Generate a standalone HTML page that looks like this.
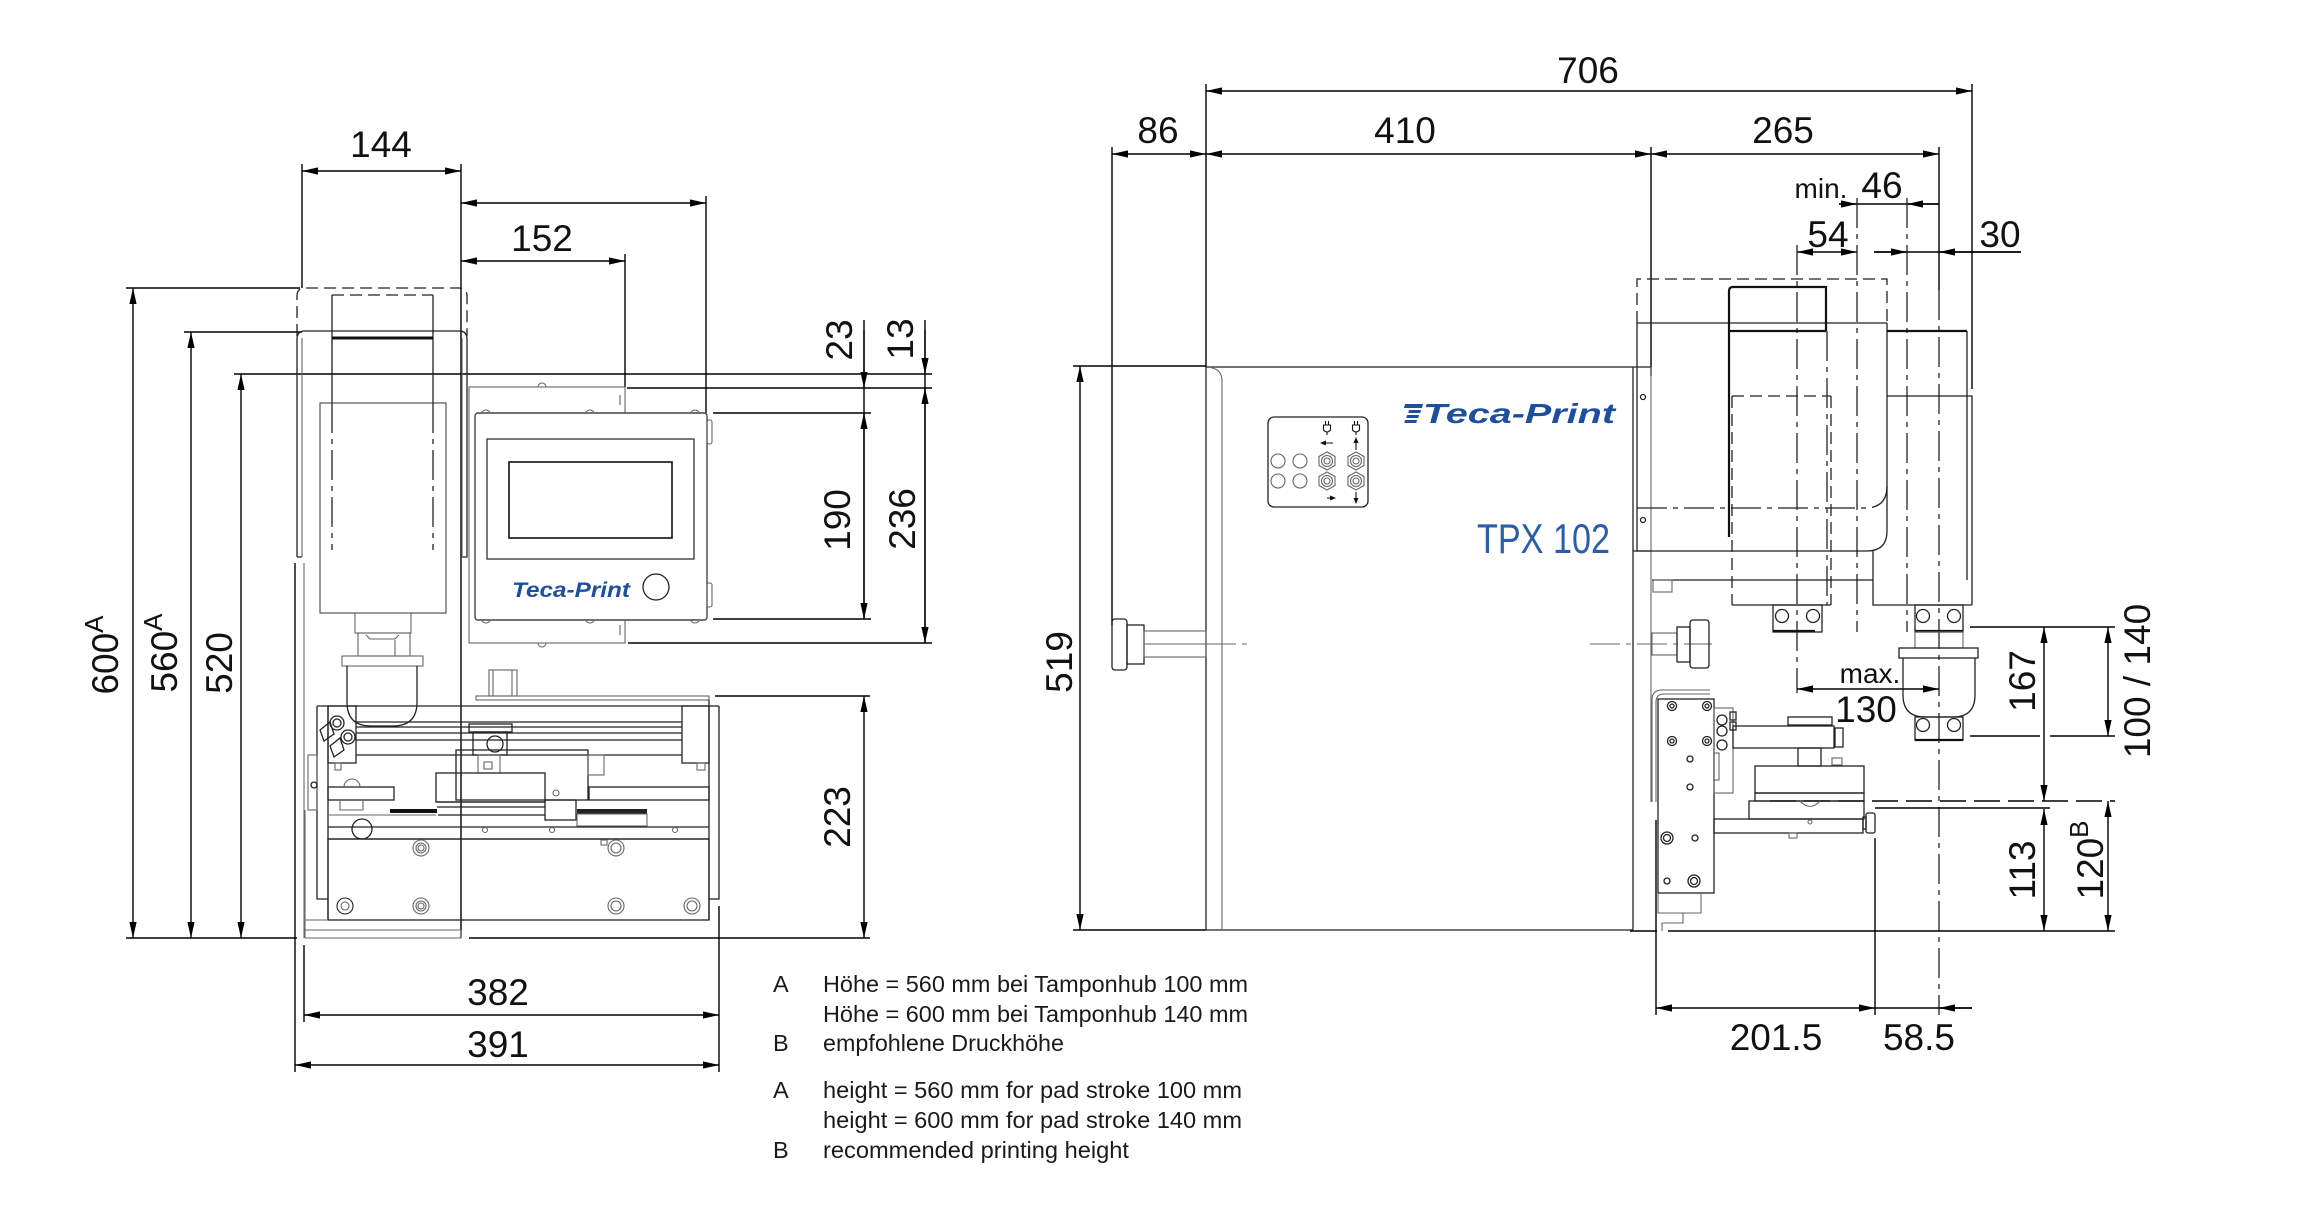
<!DOCTYPE html>
<html><head><meta charset="utf-8"><style>
html,body{margin:0;padding:0;background:#fff;width:2306px;height:1217px;overflow:hidden}
svg{display:block}
.d{stroke:#000;stroke-width:1.4;fill:none}
.da{stroke:#000;stroke-width:1.4;fill:none;marker-start:url(#a);marker-end:url(#a)}
.de{stroke:#000;stroke-width:1.4;fill:none;marker-end:url(#a)}
.m{stroke:#222;stroke-width:1.3;fill:none}
.g{stroke:#666;stroke-width:1.1;fill:none}
.ds{stroke-dasharray:12 6}
.dc{stroke-dasharray:30 6 5 6}
text{font-family:"Liberation Sans",Arial,sans-serif;fill:#111}
.t{font-size:37px}
.l{font-size:23.5px;fill:#1a1a1a}
.b{fill:#1d4f9c}
text.tpx{fill:#2b5da8}
</style></head><body>
<svg xmlns="http://www.w3.org/2000/svg" width="2306" height="1217" viewBox="0 0 2306 1217">
<defs>
<marker id="a" viewBox="0 0 16 8" refX="16" refY="4" markerWidth="16" markerHeight="8" markerUnits="userSpaceOnUse" orient="auto-start-reverse"><path d="M0,0.4L16,4L0,7.6z" fill="#000"/></marker>
</defs>

<!-- ================= LEFT VIEW: DIMENSIONS ================= -->
<line class="da" x1="302" y1="171" x2="461" y2="171"/>
<line class="da" x1="461" y1="203" x2="706" y2="203"/>
<line class="da" x1="461" y1="261" x2="625" y2="261"/>
<path class="d" d="M302,164V288 M461,164V938 M706,196V413 M625,254V387"/>
<text class="t" x="381" y="157" text-anchor="middle">144</text>
<text class="t" x="542" y="251" text-anchor="middle">152</text>

<line class="da" x1="133" y1="288" x2="133" y2="938"/>
<line class="da" x1="191" y1="332" x2="191" y2="938"/>
<line class="da" x1="241" y1="374" x2="241" y2="938"/>
<path class="d" d="M126,288H300 M184,332H302 M234,374H932 M126,938H297 M469,938H870"/>
<text class="t" text-anchor="middle" transform="translate(118,655) rotate(-90)">600<tspan font-size="26" dy="-15">A</tspan></text>
<text class="t" text-anchor="middle" transform="translate(177,653) rotate(-90)">560<tspan font-size="26" dy="-15">A</tspan></text>
<text class="t" text-anchor="middle" transform="translate(232,663) rotate(-90)">520</text>

<path class="d" d="M864,320V619 M925,320V643 M627,388H932 M713,413H871 M713,619H871 M628,643H932"/>
<line class="de" x1="864" y1="330" x2="864" y2="388"/>
<line class="da" x1="864" y1="413" x2="864" y2="619"/>
<line class="de" x1="925" y1="330" x2="925" y2="374"/>
<line class="da" x1="925" y1="388" x2="925" y2="643"/>
<text class="t" text-anchor="middle" transform="translate(852,340) rotate(-90)">23</text>
<text class="t" text-anchor="middle" transform="translate(913,339) rotate(-90)">13</text>
<text class="t" text-anchor="middle" transform="translate(850,520) rotate(-90)">190</text>
<text class="t" text-anchor="middle" transform="translate(915,519) rotate(-90)">236</text>

<line class="da" x1="864" y1="696" x2="864" y2="938"/>
<path class="d" d="M715,696H870"/>
<text class="t" text-anchor="middle" transform="translate(850,817) rotate(-90)">223</text>

<line class="da" x1="304" y1="1015" x2="719" y2="1015"/>
<line class="da" x1="295" y1="1065" x2="719" y2="1065"/>
<path class="d" d="M304,945V1022 M295,563V1072 M719,906V1072"/>
<text class="t" x="498" y="1005" text-anchor="middle">382</text>
<text class="t" x="498" y="1057" text-anchor="middle">391</text>

<!-- ================= LEFT VIEW: MACHINE ================= -->
<path class="m ds" d="M297,336V296Q297,288 305,288H459Q467,288 467,296V336"/>
<path class="m" d="M297,557V339Q297,331 305,331H459Q467,331 467,339V557H462 M297,557H302"/>
<path class="g" d="M302,557V338 M462,557V338 M304,563V938"/>
<path class="m" d="M332,403V295 M433,403V295"/>
<line class="m ds" x1="332" y1="295" x2="433" y2="295"/>
<line x1="332" y1="338" x2="433" y2="338" stroke="#111" stroke-width="3"/>
<rect x="320" y="403" width="126" height="210" fill="none" stroke="#555" stroke-width="1.2"/>
<path class="m dc" d="M332,403V550 M433,403V550"/>
<rect class="g" x="355" y="613" width="56" height="20"/>
<rect class="g" x="358" y="633" width="52" height="23"/>
<path class="g" d="M366,635L370,639H395L399,635 M395,640V656"/>
<rect class="g" x="342" y="656" width="81" height="10" stroke="#333"/>
<path class="m" d="M347,666V702Q347,726 371,726H393Q417,726 417,702V666"/>

<rect class="g" x="469" y="387" width="156" height="256" stroke-width="1.4"/>
<path class="g" d="M538,387A4,4 0 0 1 546,387 M538,643A4,4 0 0 0 546,643 M620,395V405 M620,625V635"/>
<rect x="475" y="413" width="232" height="207" rx="3" fill="#fff" stroke="#444" stroke-width="1.4"/>
<path class="g" d="M482,413A4,3 0 0 1 490,413 M586,413A4,3 0 0 1 594,413 M691,413A4,3 0 0 1 699,413 M482,620A4,3 0 0 0 490,620 M586,620A4,3 0 0 0 594,620 M691,620A4,3 0 0 0 699,620"/>
<rect class="g" x="707" y="420" width="5" height="24" rx="2"/>
<rect class="g" x="707" y="583" width="5" height="24" rx="2"/>
<rect x="487" y="439" width="207" height="120" fill="none" stroke="#333" stroke-width="1.3"/>
<rect x="509" y="462" width="163" height="76" fill="none" stroke="#111" stroke-width="1.6"/>
<text x="512" y="597" font-size="21" font-weight="bold" font-style="italic" class="b" textLength="118" lengthAdjust="spacingAndGlyphs">Teca-Print</text>
<circle class="m" cx="656" cy="587" r="13"/>

<rect class="g" x="476" y="696" width="233" height="4"/>
<rect class="g" x="489" y="670" width="28" height="26"/>
<path class="g" d="M493,670V696 M512,670V696"/>
<path class="m" d="M317,706H719 M317,706V899H328 M328,706V920 M709,700V920 M719,706V899H709"/>
<rect class="m" x="328" y="706" width="28" height="57"/>
<circle class="m" cx="337" cy="723" r="7"/><circle class="m" cx="337" cy="723" r="4"/>
<circle class="m" cx="348" cy="737" r="7"/><circle class="m" cx="348" cy="737" r="4"/>
<path class="m" d="M320,730L330,722L334,734L324,741Z M330,746L340,738L344,750L334,757Z"/>
<path class="m" d="M356,722H682 M356,727H682 M356,733H682 M356,740H682 M356,755H682"/>
<rect class="m" x="682" y="706" width="27" height="57"/>
<rect class="g" x="697" y="763" width="8" height="7"/>
<rect class="g" x="335" y="763" width="6" height="7"/>
<rect class="m" x="456" y="750" width="132" height="50" fill="#fff"/>
<rect class="g" x="588" y="755" width="16" height="20"/>
<rect class="m" x="469" y="724" width="43" height="8"/>
<rect class="m" x="473" y="732" width="34" height="23" fill="#fff"/>
<circle class="m" cx="495" cy="744" r="8"/>
<rect class="g" x="478" y="755" width="22" height="18"/>
<rect class="g" x="484" y="762" width="8" height="7"/>
<rect class="m" x="436" y="773" width="109" height="29" fill="#fff"/>
<path class="m" d="M437,802H545 M437,807H545 M438,815H545"/>
<circle class="g" cx="556" cy="793" r="3"/>
<rect class="m" x="545" y="800" width="31" height="20"/>
<rect class="m" x="328" y="787" width="66" height="13"/>
<path class="g" d="M344,787A8,8 0 0 1 360,787 M340,800V810H363V800"/>
<rect class="m" x="589" y="787" width="120" height="13"/>
<rect x="390" y="809" width="47" height="4" fill="#111"/>
<rect x="577" y="809" width="70" height="5" fill="#222"/>
<rect class="g" x="577" y="814" width="70" height="12"/>
<path class="g" d="M328,815H436"/>
<path class="m" d="M328,827H709 M328,839H709"/>
<circle class="g" cx="485" cy="830" r="2.5"/><circle class="g" cx="552" cy="830" r="2.5"/><circle class="g" cx="675" cy="830" r="2.5"/>
<circle class="m" cx="362" cy="829" r="10" fill="#fff"/>
<rect class="m" x="328" y="839" width="381" height="81"/>
<g class="g">
<circle cx="421" cy="848" r="8"/><circle cx="421" cy="848" r="5"/><circle cx="421" cy="848" r="3"/>
<circle cx="616" cy="848" r="8"/><circle cx="616" cy="848" r="5"/>
<circle cx="345" cy="906" r="8" stroke="#222"/><circle cx="345" cy="906" r="4"/>
<circle cx="421" cy="906" r="8"/><circle cx="421" cy="906" r="5"/><circle cx="421" cy="906" r="3"/>
<circle cx="616" cy="906" r="8"/><circle cx="616" cy="906" r="5"/>
<circle cx="692" cy="906" r="8"/><circle cx="692" cy="906" r="5"/>
</g>
<rect class="g" x="601" y="840" width="6" height="5"/>
<rect class="g" x="308" y="755" width="9" height="55"/>
<circle class="m" cx="314" cy="785" r="3"/>
<path class="g" d="M305,920H328 M305,930H461 M305,938H461 M461,930V938 M305,810V938"/>

<!-- ================= RIGHT VIEW: DIMENSIONS ================= -->
<line class="da" x1="1206" y1="91" x2="1972" y2="91"/>
<line class="da" x1="1112" y1="154" x2="1206" y2="154"/>
<line class="da" x1="1206" y1="154" x2="1651" y2="154"/>
<line class="da" x1="1651" y1="154" x2="1939" y2="154"/>
<path class="d" d="M1206,84V367 M1972,84V389 M1112,147V625 M1651,147V376 M1939,147V290"/>
<text class="t" x="1588" y="83" text-anchor="middle">706</text>
<text class="t" x="1158" y="143" text-anchor="middle">86</text>
<text class="t" x="1405" y="143" text-anchor="middle">410</text>
<text class="t" x="1783" y="143" text-anchor="middle">265</text>

<path class="d" d="M1839,204H1939"/>
<line class="de" x1="1839" y1="204" x2="1857" y2="204"/>
<line class="de" x1="1939" y1="204" x2="1907" y2="204"/>
<text x="1821" y="198" text-anchor="middle" font-size="28">min.</text>
<text class="t" x="1882" y="198" text-anchor="middle">46</text>
<line class="da" x1="1797" y1="252" x2="1857" y2="252"/>
<path class="d" d="M1874,252H2021"/>
<line class="de" x1="1874" y1="252" x2="1907" y2="252"/>
<line class="de" x1="2021" y1="252" x2="1939" y2="252"/>
<text class="t" x="1828" y="247" text-anchor="middle">54</text>
<text class="t" x="2000" y="247" text-anchor="middle">30</text>

<path class="m dc" d="M1797,245V693 M1857,198V632 M1907,198V632 M1939,290V1015"/>

<line class="da" x1="1080" y1="366" x2="1080" y2="930"/>
<path class="d" d="M1073,366H1206 M1073,930H1206"/>
<text class="t" text-anchor="middle" transform="translate(1072,662) rotate(-90)">519</text>

<line class="da" x1="2044" y1="627" x2="2044" y2="801"/>
<line class="da" x1="2108" y1="627" x2="2108" y2="736"/>
<line class="da" x1="2044" y1="809" x2="2044" y2="931"/>
<line class="da" x1="2108" y1="801" x2="2108" y2="931"/>
<path class="d" d="M1970,627H2115 M1970,736H2040 M2050,736H2115 M1875,808H2050 M1668,931H2115 M1630,931H1657"/>
<path class="d" d="M1770,801H2115" stroke-dasharray="26 8"/>
<text class="t" text-anchor="middle" transform="translate(2035,681) rotate(-90)">167</text>
<text class="t" text-anchor="middle" transform="translate(2150,681) rotate(-90)">100 / 140</text>
<text class="t" text-anchor="middle" transform="translate(2035,870) rotate(-90)">113</text>
<text class="t" text-anchor="middle" transform="translate(2103,860) rotate(-90)">120<tspan font-size="26" dy="-15">B</tspan></text>

<line class="da" x1="1797" y1="689" x2="1939" y2="689"/>
<text x="1870" y="683" text-anchor="middle" font-size="28">max.</text>
<text class="t" x="1866" y="722" text-anchor="middle">130</text>

<line class="da" x1="1656" y1="1008" x2="1875" y2="1008"/>
<path class="d" d="M1875,1008H1972 M1656,820V1015 M1875,838V1015"/>
<line class="de" x1="1972" y1="1008" x2="1939" y2="1008"/>
<text class="t" x="1776" y="1050" text-anchor="middle">201.5</text>
<text class="t" x="1919" y="1050" text-anchor="middle">58.5</text>

<!-- ================= RIGHT VIEW: MACHINE ================= -->
<path class="m" d="M1206,930V367H1633V930 M1206,930H1633"/>
<path class="g" d="M1222,930V381Q1222,370 1212,368"/>
<path class="m" d="M1633,367H1651 M1633,551H1651"/>
<path class="g" d="M1651,367V802"/>
<circle class="m" cx="1643" cy="397" r="2.5"/><circle class="m" cx="1643" cy="520" r="2.5"/>

<rect class="m" x="1268" y="417" width="100" height="90" rx="6"/>
<g class="g" stroke="#333">
<circle cx="1278" cy="461" r="7"/><circle cx="1300" cy="461" r="7"/>
<circle cx="1278" cy="481" r="7"/><circle cx="1300" cy="481" r="7"/>
<polygon points="1327,452 1335,456.5 1335,465.5 1327,470 1319,465.5 1319,456.5"/><circle cx="1327" cy="461" r="5.5"/><circle cx="1327" cy="461" r="3"/>
<polygon points="1327,472 1335,476.5 1335,485.5 1327,490 1319,485.5 1319,476.5"/><circle cx="1327" cy="481" r="5.5"/><circle cx="1327" cy="481" r="3"/>
<polygon points="1356,452 1364,456.5 1364,465.5 1356,470 1348,465.5 1348,456.5"/><circle cx="1356" cy="461" r="5.5"/><circle cx="1356" cy="461" r="3"/>
<polygon points="1356,472 1364,476.5 1364,485.5 1356,490 1348,485.5 1348,476.5"/><circle cx="1356" cy="481" r="5.5"/><circle cx="1356" cy="481" r="3"/>
</g>
<g stroke="#111" stroke-width="1.1" fill="none">
<path d="M1325.5,421V425 M1328.5,421V425 M1323.5,425H1330.5V430Q1327,434 1323.5,430Z M1327,432V435"/>
<path d="M1354.5,421V425 M1357.5,421V425 M1352.5,425H1359.5V430Q1356,434 1352.5,430Z M1356,432V435"/>
<path d="M1324,443H1333 M1327,498H1333 M1356,441V450 M1356,492V501"/>
</g>
<g fill="#111">
<polygon points="1320,443 1326,440.5 1326,445.5"/>
<polygon points="1336,498 1330,495.5 1330,500.5"/>
<polygon points="1356,437 1353.5,443 1358.5,443"/>
<polygon points="1356,504 1353.5,498 1358.5,498"/>
</g>
<g class="b">
<path d="M1405,404H1423L1422,408H1404Z M1409,410H1421L1420.3,413H1408.3Z M1407,415H1419L1418.3,418H1406.3Z M1405,420H1417L1416.3,423H1404.3Z"/>
</g>
<text x="1423" y="423" font-size="28" font-weight="bold" font-style="italic" class="b" textLength="192" lengthAdjust="spacingAndGlyphs">Teca-Print</text>
<text x="1477" y="553" font-size="42" class="tpx" textLength="133" lengthAdjust="spacingAndGlyphs">TPX 102</text>

<rect class="m" x="1112" y="619" width="15" height="51" rx="3"/>
<rect class="m" x="1127" y="625" width="17" height="39"/>
<rect class="g" x="1144" y="631" width="62" height="26"/>
<path class="g" d="M1144,644H1206"/>
<path class="g dc" d="M1206,644H1250 M1590,644H1712"/>
<rect class="g" x="1652" y="633" width="25" height="22"/>
<rect class="m" x="1677" y="627" width="13" height="35"/>
<rect class="m" x="1690" y="620" width="19" height="48" rx="3"/>

<path class="m ds" d="M1637,323V279H1887V323"/>
<path class="m" d="M1637,323H1887 M1637,323V551H1867Q1887,551 1887,531V323"/>
<path class="m dc" d="M1637,508H1865Q1887,508 1887,486"/>
<path d="M1729,537V291Q1729,287 1733,287H1826V331 M1729,331H1826" fill="none" stroke="#111" stroke-width="2.2"/>
<path class="m ds" d="M1732,396H1831 M1732,396V605 M1831,396V605"/>
<path class="m dc" d="M1827,331V605"/>
<path class="m" d="M1732,605H1831"/>
<path d="M1887,331H1967" stroke="#111" stroke-width="2.2" fill="none"/>
<path class="m" d="M1967,331V580 M1887,396H1972V605 M1873,551V605H1972 M1652,580H1873"/>
<rect class="g" x="1653" y="580" width="19" height="12"/>
<rect class="m" x="1773" y="605" width="49" height="27"/>
<circle class="m" cx="1782" cy="616" r="6.5"/><circle class="m" cx="1813" cy="616" r="6.5"/>
<path d="M1773,631H1815" stroke="#111" stroke-width="2.2"/>
<rect class="m" x="1915" y="605" width="48" height="27"/>
<circle class="m" cx="1923" cy="616" r="6.5"/><circle class="m" cx="1954" cy="616" r="6.5"/>
<path d="M1915,631H1963" stroke="#111" stroke-width="2.2"/>
<rect class="g" x="1915" y="632" width="48" height="16"/>
<rect class="m" x="1899" y="648" width="79" height="10"/>
<path class="m" d="M1903,658V695Q1903,717 1925,717H1953Q1975,717 1975,695V658"/>
<rect class="m" x="1915" y="717" width="48" height="23" fill="#fff"/>
<circle class="m" cx="1923" cy="725" r="6.5"/><circle class="m" cx="1954" cy="725" r="6.5"/>
<path d="M1915,740H1963" stroke="#111" stroke-width="2.2"/>

<path class="g" d="M1652,802V700Q1652,690 1662,690H1710 M1656,802V702Q1656,694 1664,694H1710"/>
<rect class="m" x="1658" y="699" width="56" height="194" fill="#fff"/>
<g class="m">
<circle cx="1672" cy="706" r="4.5"/><circle cx="1672" cy="706" r="2"/>
<circle cx="1707" cy="706" r="4.5"/><circle cx="1707" cy="706" r="2"/>
<circle cx="1672" cy="741" r="4.5"/><circle cx="1672" cy="741" r="2"/>
<circle cx="1707" cy="741" r="4.5"/><circle cx="1707" cy="741" r="2"/>
<circle cx="1690" cy="759" r="3"/><circle cx="1690" cy="787" r="3"/>
<circle cx="1667" cy="838" r="6"/><circle cx="1667" cy="838" r="3.5"/>
<circle cx="1695" cy="838" r="3"/>
<circle cx="1667" cy="881" r="3"/>
<circle cx="1694" cy="881" r="6"/><circle cx="1694" cy="881" r="3.5"/>
</g>
<path class="g" d="M1658,893V913H1683V923H1662V931 M1701,893V913H1683"/>
<rect class="g" x="1714" y="708" width="19" height="85"/>
<circle class="m" cx="1722" cy="720" r="5"/><circle class="m" cx="1722" cy="731" r="5"/><circle class="m" cx="1722" cy="745" r="5"/>
<rect class="m" x="1730" y="712" width="6" height="8"/><rect class="m" x="1730" y="722" width="6" height="8"/>
<rect class="g" x="1714" y="753" width="5" height="27"/>
<rect class="m" x="1733" y="726" width="101" height="22" fill="#fff"/>
<rect class="m" x="1835" y="728" width="8" height="19"/>
<rect class="m" x="1788" y="717" width="44" height="8"/>
<rect class="m" x="1798" y="748" width="23" height="18"/>
<rect class="g" x="1832" y="758" width="10" height="7"/>
<rect class="m" x="1755" y="766" width="109" height="27" fill="#fff"/>
<rect class="m" x="1755" y="793" width="109" height="8"/>
<rect class="m" x="1749" y="801" width="115" height="18"/>
<path class="g" d="M1800,801Q1810,812 1820,801"/>
<circle class="g" cx="1810" cy="822" r="2"/>
<rect class="m" x="1714" y="819" width="149" height="14" fill="#fff"/>
<rect class="m" x="1863" y="817" width="3" height="12"/>
<rect class="m" x="1866" y="813" width="9" height="20" rx="2"/>
<rect class="g" x="1789" y="833" width="8" height="5"/>

<!-- ================= LEGEND ================= -->
<text class="l" x="773" y="992">A</text>
<text class="l" x="823" y="992" textLength="425" lengthAdjust="spacingAndGlyphs">Höhe = 560 mm bei Tamponhub 100 mm</text>
<text class="l" x="823" y="1022" textLength="425" lengthAdjust="spacingAndGlyphs">Höhe = 600 mm bei Tamponhub 140 mm</text>
<text class="l" x="773" y="1051">B</text>
<text class="l" x="823" y="1051" textLength="241" lengthAdjust="spacingAndGlyphs">empfohlene Druckhöhe</text>
<text class="l" x="773" y="1098">A</text>
<text class="l" x="823" y="1098" textLength="419" lengthAdjust="spacingAndGlyphs">height = 560 mm for pad stroke 100 mm</text>
<text class="l" x="823" y="1128" textLength="419" lengthAdjust="spacingAndGlyphs">height = 600 mm for pad stroke 140 mm</text>
<text class="l" x="773" y="1158">B</text>
<text class="l" x="823" y="1158" textLength="306" lengthAdjust="spacingAndGlyphs">recommended printing height</text>
</svg>
</body></html>
